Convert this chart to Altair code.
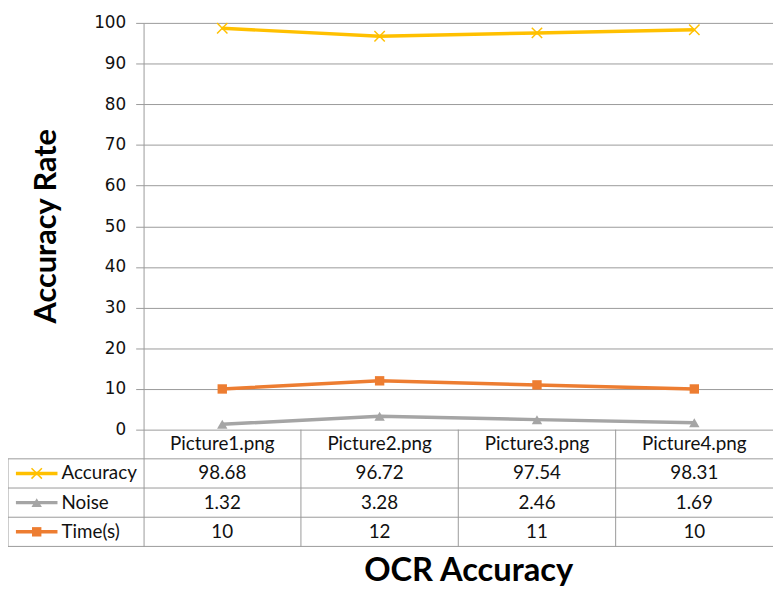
import altair as alt
import pandas as pd

# ---------------- data ----------------
categories = ["Picture1.png", "Picture2.png", "Picture3.png", "Picture4.png"]
series_names = ["Accuracy", "Noise", "Time(s)"]
accuracy = [98.68, 96.72, 97.54, 98.31]
noise = [1.32, 3.28, 2.46, 1.69]
time_s = [10, 12, 11, 10]
y_ticks = [0, 10, 20, 30, 40, 50, 60, 70, 80, 90, 100]
colors = ["#FFC000", "#A5A5A5", "#ED7D31"]

series_values = [accuracy, noise, time_s]

# ---------------- layout constants ----------------
W = 636                    # plot area width
PLOT_H = 411               # px from 100 down to 0
TABLE_H = 118              # px of data table below the axis
H = PLOT_H + TABLE_H
PPU = PLOT_H / 100.0       # px per y unit
Y_MIN = -TABLE_H / PPU
ROW_H = -Y_MIN / 4.0       # 4 table rows (header + 3 series)
LEFT_EXT = 137             # table label column width (px)
GRID = "#9a9a9a"
TXT = "#111111"
FONT = "Lato"
TFS = 19

n = len(categories)

rows = []
for s, name in enumerate(series_names):
    for i, c in enumerate(categories):
        rows.append({"series": name, "cat": c, "x": i + 0.5,
                     "value": series_values[s][i],
                     "label": f"{series_values[s][i]:g}",
                     "row_y": -ROW_H * (s + 1.5)})
df = pd.DataFrame(rows)

header = pd.DataFrame({"cat": categories, "x": [i + 0.5 for i in range(n)],
                       "row_y": [-ROW_H * 0.5] * n})
hlines = pd.DataFrame({"y": [-ROW_H * k for k in range(1, 5)]})
vlines = pd.DataFrame({"x": list(range(1, n)), "y0": [0.0] * (n - 1), "y1": [Y_MIN] * (n - 1)})
leg = pd.DataFrame({"series": series_names,
                    "row_y": [-ROW_H * (s + 1.5) for s in range(len(series_names))]})
left_border = pd.DataFrame({"y0": [-ROW_H], "y1": [Y_MIN]})

xs = alt.Scale(domain=[0, n], nice=False, zero=False)
ys = alt.Scale(domain=[Y_MIN, 100], nice=False, zero=False)
cs = alt.Scale(domain=series_names, range=colors)

X = alt.X("x:Q", scale=xs,
          axis=alt.Axis(title="OCR Accuracy", labels=False, ticks=False, domain=False,
                        grid=False, titleFont=FONT, titleFontSize=33, titleFontWeight="bold",
                        titleColor="#000000", titlePadding=8, titleX=328))
Y = alt.Y("value:Q", scale=ys,
          axis=alt.Axis(title="Accuracy Rate", values=y_ticks, grid=True, gridColor=GRID,
                        domainColor=GRID, tickColor=GRID, tickSize=8, labelFontSize=17,
                        labelFont="DejaVu Sans", labelColor=TXT, labelPadding=10,
                        titleFont=FONT, titleFontSize=31, titleFontWeight="bold",
                        titleColor="#000000", titleX=-82, titleY=205, titleBaseline="bottom",
                        titleAlign="center", titleAngle=-90))

color = alt.Color("series:N", scale=cs, legend=None)

lines = alt.Chart(df).mark_line(strokeWidth=3.5).encode(x=X, y=Y, color=color, detail="series:N")

xpath = "M-1,-1L1,1M-1,1L1,-1"
acc_pts = alt.Chart(df[df.series == "Accuracy"]).mark_point(
    shape=xpath, filled=False, size=110, strokeWidth=1.5, opacity=1
).encode(x="x:Q", y="value:Q", color=color)
noise_pts = alt.Chart(df[df.series == "Noise"]).mark_point(
    shape="triangle-up", filled=True, size=110, opacity=1
).encode(x="x:Q", y="value:Q", color=color)
time_pts = alt.Chart(df[df.series == "Time(s)"]).mark_point(
    shape="square", filled=True, size=90, opacity=1
).encode(x="x:Q", y="value:Q", color=color)

# ---------------- table ----------------
hrules = alt.Chart(hlines).mark_rule(color=GRID, strokeWidth=1).encode(
    x=alt.value(-LEFT_EXT), x2=alt.value(W), y="y:Q")
vrules = alt.Chart(vlines).mark_rule(color=GRID, strokeWidth=1).encode(
    x="x:Q", y="y0:Q", y2="y1:Q")
lrule = alt.Chart(left_border).mark_rule(color=GRID, strokeWidth=1).encode(
    x=alt.value(-LEFT_EXT), y="y0:Q", y2="y1:Q")

head_txt = alt.Chart(header).mark_text(font=FONT, fontSize=TFS, color=TXT, baseline="middle").encode(
    x="x:Q", y="row_y:Q", text="cat:N")
val_txt = alt.Chart(df).mark_text(font=FONT, fontSize=TFS, color=TXT, baseline="middle").encode(
    x="x:Q", y="row_y:Q", text="label:N")

leg_line = alt.Chart(leg).mark_rule(strokeWidth=3.5).encode(
    x=alt.value(-129), x2=alt.value(-87), y="row_y:Q", color=color)
leg_acc = alt.Chart(leg[leg.series == "Accuracy"]).mark_point(
    shape=xpath, filled=False, size=110, strokeWidth=1.5, opacity=1
).encode(x=alt.value(-108), y="row_y:Q", color=color)
leg_noise = alt.Chart(leg[leg.series == "Noise"]).mark_point(
    shape="triangle-up", filled=True, size=110, opacity=1
).encode(x=alt.value(-108), y="row_y:Q", color=color)
leg_time = alt.Chart(leg[leg.series == "Time(s)"]).mark_point(
    shape="square", filled=True, size=90, opacity=1
).encode(x=alt.value(-108), y="row_y:Q", color=color)
leg_txt = alt.Chart(leg).mark_text(font=FONT, fontSize=TFS, color=TXT, align="left",
                                    baseline="middle").encode(
    x=alt.value(-83), y="row_y:Q", text="series:N")

chart = alt.layer(
    lines, hrules, vrules, lrule, acc_pts, noise_pts, time_pts,
    head_txt, val_txt, leg_line, leg_acc, leg_noise, leg_time, leg_txt
).properties(
    width=W, height=H,
    autosize=alt.AutoSizeParams(type="none"),
    padding={"left": LEFT_EXT, "top": 12, "right": 0, "bottom": 42},
    background="white",
).configure_view(stroke=None)

chart.save("out.html", embed_options={"renderer": "svg", "actions": False})
